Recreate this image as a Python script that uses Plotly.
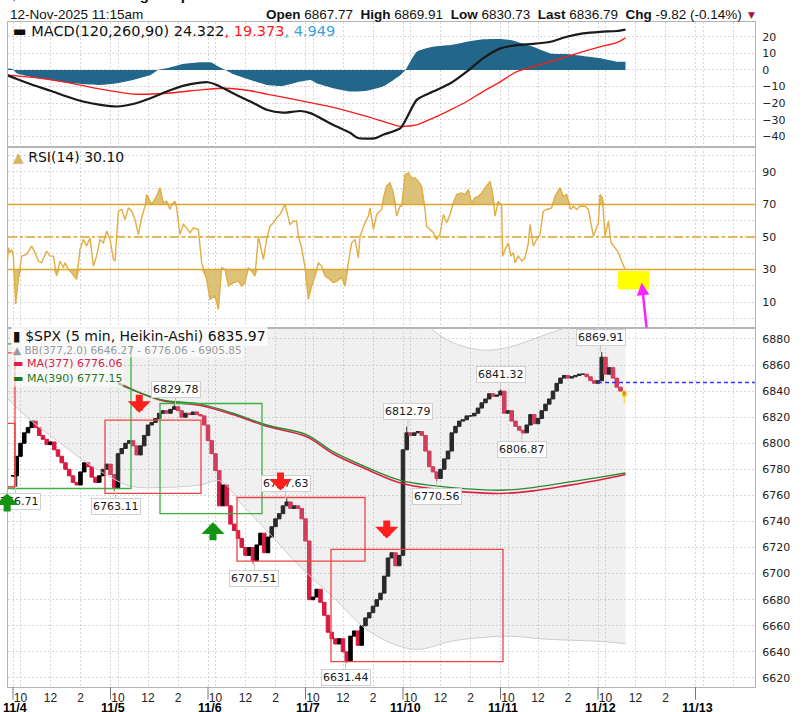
import plotly.graph_objects as go

BARS_PER_DAY = 78  # 5-min bars per session, 9:30-16:00

# ---------------- header ----------------
title_line = "$SPX S&P 500 Large Cap Index INDX"
stamp = "12-Nov-2025 11:15am"
q_open, q_high, q_low, q_last = 6867.77, 6869.91, 6830.73, 6836.79
q_chg, q_chg_pct = -9.82, -0.14
prev_close = 6846.61

# ---------------- time axis ----------------
day_labels = ["11/4", "11/5", "11/6", "11/7", "11/10", "11/11", "11/12", "11/13"]
hour_labels = ["10", "12", "2"]
hour_offsets = [6, 30, 54]  # bars after 9:30

# ---------------- MACD(120,260,90) ----------------
macd_bar = [-5, 3, 16, 30, 43, 56, 70, 83, 96, 110, 123, 136, 150, 156, 163, 176, 190, 203, 216, 230,
            238, 256, 270, 276, 290, 296, 310, 323, 336, 350, 363, 376, 390, 403, 416, 430, 443, 456,
            470, 483, 490]
macd_val = [-3, -5.4, -9, -12.5, -16, -19, -21, -22, -20.5, -17, -13, -9.6, -7.6, -7.4, -9, -14, -19, -24,
            -25.7, -24.7, -26, -33, -38, -41, -41, -39, -35, -18, -13, -8, -1, 7, 13, 15, 15.7, 17, 20,
            22, 23, 23.5, 24.322]
sig_bar = [-5, 16, 43, 70, 96, 123, 150, 170, 190, 203, 230, 256, 283, 296, 310, 323, 336, 350, 363, 376,
           390, 403, 416, 430, 443, 456, 470, 483, 490]
sig_val = [-3, -4.5, -7.5, -11.5, -14.5, -14, -12, -11, -12.5, -14.5, -18.5, -22.5, -28, -31, -34, -33,
           -29, -24, -19, -13, -7, -1, 2, 5, 8, 11, 14, 16.5, 19.373]
hist_bar = [-5, 0, 3, 16, 30, 43, 56, 70, 83, 96, 110, 116, 123, 136, 150, 158, 163, 170, 176, 190,
            203, 216, 230, 238, 243, 256, 270, 283, 296, 310, 314, 323, 336, 350, 363, 376, 390, 398,
            403, 416, 430, 443, 456, 470, 483, 490]
hist_val = [1, 0.5, -2, -4.4, -6, -7.6, -8.6, -9, -8, -6, -3, 0, 1, 3.6, 4.6, 4.6, 2.6, 0, -2.4, -6,
            -9, -9.6, -7, -6, -8, -11, -13, -12.5, -10, -3, 0, 11, 14, 15, 17, 18.5, 18.7, 18, 17, 14,
            10, 9.6, 8.4, 7, 5, 4.949]

# ---------------- RSI(14) ----------------
rsi_bar = [-4.5, -3.7, -2.4, -1.1, 0.3, 2.1, 4.3, 6.9, 10.9, 14.9, 17.6, 20.3, 22.9, 26.9, 29.6, 32.3,
           34.9, 37.6, 40.3, 41.6, 44.3, 46.9, 50.9, 53.6, 56.3, 58.9, 61.6, 64.3, 66.9, 69.6, 72.3,
           74.9, 77.6, 80.3, 81.6, 84.3, 86.9, 89.6, 92.3, 94.9, 97.6, 100.3, 102.9, 105.6, 106.9,
           110.9, 114.9, 117.6, 120.3, 122.9, 125.6, 126.9, 129.6, 130.9, 133.6, 136.3, 138.9, 141.6,
           144.3, 148.3, 150.9, 154.9, 157.6, 161.6, 164.3, 166.9, 169.6, 172.3, 176.3, 180.3, 182.9,
           185.6, 188.3, 190.9, 193.6, 196.3, 200.3, 202.9, 205.6, 208.3, 210.9, 213.6, 217.6, 221.6,
           224.3, 226.9, 228.3, 230.9, 233.6, 236.3, 238.9, 241.6, 244.3, 246.9, 249.6, 253.6, 256.3,
           258.9, 262.9, 265.6, 268.3, 270.9, 273.6, 276.3, 277.6, 281.6, 284.3, 285.6, 288.3, 290.9,
           294.9, 296.3, 298.9, 301.6, 304.3, 306.9, 309.6, 310.9, 313.6, 316.3, 318.9, 321.6, 324.3,
           326.9, 329.6, 330.9, 333.6, 336.3, 338.9, 341.6, 344.3, 346.9, 349.6, 352.3, 354.9, 358.9,
           361.6, 364.3, 366.9, 369.6, 372.3, 374.9, 377.6, 381.6, 383.7, 385.6, 388.3, 390.9, 391.7,
           393.6, 396.3, 398.4, 400.3, 401.6, 404.3, 406.9, 409.6, 412.3, 413.6, 416.3, 418.9, 421.6,
           424.3, 426.9, 430.9, 433.6, 437.6, 440.3, 442.9, 446.1, 448.3, 450.9, 453.6, 457.6, 460.3,
           464.3, 468.3, 469.6, 471.5, 473.6, 476.3, 478.4, 481.6, 484.3, 486.9, 489.6]
rsi_val = [34.2, 43.4, 40.3, 42.3, 38.2, 8.6, 23.9, 38.2, 39.3, 44.4, 40.3, 35.2, 34.2, 41.3, 38.2, 38.2,
           26, 35.2, 31.1, 34.2, 30.1, 28, 23.9, 42.3, 48.5, 44.4, 49.5, 32.1, 38.2, 48.5, 46.4,
           53.6, 48.5, 36.2, 35.2, 65.8, 66.9, 60.7, 67.9, 65.8, 60.7, 51.5, 61.8, 68.9, 76.1,
           70, 75, 80.2, 71, 72, 66.9, 70, 72, 67.9, 51.5, 57.7, 55.6, 52.6,
           55.6, 54.6, 34.2, 23.9, 11.7, 13.7, 5.5, 31.1, 30.1, 19.8, 21.9, 22.9, 19.8,
           21.9, 31.1, 29, 26, 50.5, 36.2, 48.5, 56.6, 58.7, 61.8, 63.8, 70, 57.7,
           59.7, 59.7, 50.5, 43.4, 31.1, 11.7, 19.8, 26, 34.2, 32.1, 26, 23.9, 21.9,
           22.9, 25, 19.8, 34.2, 46.4, 48.5, 37.2, 50.5, 58.7, 62.8, 67.9, 54.6, 63.8,
           66.9, 74, 81.2, 83.3, 77.1, 62.8, 68.9, 68.9, 88.3, 89.4, 86.3, 86.3, 84.2,
           81.2, 66.9, 56.6, 54.6, 52.6, 48.5, 51.5, 63.8, 58.7, 63.8, 71, 76.1, 77.1,
           76.1, 79.1, 71, 74, 75, 77.1, 80.2, 84.2, 77.1, 62.8, 72, 68.9, 38.2,
           42.3, 46.4, 38.2, 40.3, 34.2, 38.2, 35.2, 37.2, 46.4, 57.7, 44.4, 48.5, 51.5,
           65.8, 66.9, 67.9, 75, 80.2, 75, 76.1, 66.9, 68.9, 66.9, 68.9, 68.9, 66.9,
           50.5, 58.7, 76.1, 74, 50.5, 59.7, 46.4, 43.4, 40.3, 35.2, 30.1]

# ---------------- price: Heikin-Ashi closes, one per 15 min ----------------
ha_close = [
    # 11/4
    6775, 6790, 6800, 6808, 6812, 6817, 6812, 6806, 6803, 6799, 6801, 6795, 6790,
    6785, 6780, 6775, 6770, 6768, 6778, 6785, 6782, 6774, 6770, 6775, 6780, 6784,
    # 11/5
    6776, 6766, 6792, 6796, 6800, 6802, 6798, 6791, 6798, 6806, 6814, 6816, 6819,
    6823, 6825, 6823, 6826, 6828, 6825, 6820, 6823, 6822, 6824, 6822, 6821, 6814,
    # 11/6
    6802, 6792, 6779, 6752, 6768, 6752, 6738, 6733, 6727, 6720, 6714, 6720, 6710,
    6722, 6731, 6716, 6728, 6736, 6742, 6746, 6752, 6755, 6750, 6752, 6750, 6742,
    # 11/7
    6725, 6680, 6682, 6688, 6678, 6668, 6655, 6650, 6646, 6650, 6640, 6633, 6652,
    6656, 6645, 6660, 6666, 6670, 6675, 6680, 6685, 6698, 6712, 6716, 6706, 6714,
    # 11/10
    6795, 6808, 6806, 6808, 6809, 6806, 6794, 6782, 6778, 6773, 6780, 6788, 6794,
    6808, 6813, 6817, 6818, 6821, 6821, 6823, 6827, 6831, 6834, 6838, 6836, 6837,
    # 11/11
    6840, 6823, 6825, 6817, 6813, 6810, 6808, 6814, 6822, 6815, 6819, 6825, 6830,
    6834, 6840, 6846, 6850, 6852, 6850, 6851, 6852, 6853, 6853, 6851, 6848, 6846,
    # 11/12
    6848, 6866, 6853, 6858, 6850, 6843, 6840, 6835.97,
]

swing_bar = [2, 82, 130, 193, 218, 266, 316, 339, 390, 407, 470]
swing_val = [6766.71, 6763.11, 6829.78, 6707.51, 6757.63, 6631.44, 6812.79, 6770.56, 6841.32, 6806.87, 6869.91]
swing_high = [False, False, True, False, True, False, True, False, True, False, True]

# Bollinger(377,2.0) and moving averages
bb_bar = [-4, 0, 16, 38, 59, 78, 94, 118, 150, 166, 184, 203, 230, 256, 283, 310, 326, 350, 376, 398,
          422, 443, 470, 490]
bb_lower = [6834, 6830, 6816, 6800, 6785, 6774, 6767, 6766, 6768, 6771, 6752, 6733, 6705, 6682, 6657,
            6644, 6642, 6648, 6651, 6652, 6650, 6649, 6648, 6646.27]
bb_upper = [6960, 6955, 6940, 6925, 6915, 6908, 6900, 6895, 6893, 6893, 6895, 6898, 6903, 6905, 6903,
            6898, 6893, 6878, 6871.5, 6874, 6882, 6889, 6898, 6905.85]
ma_bar = [84, 118, 150, 176, 203, 235, 256, 283, 310, 336, 363, 390, 416, 443, 470, 490]
ma377 = [6846.5, 6833, 6829, 6822, 6813, 6805, 6792, 6780, 6769.5, 6765, 6762.5, 6761.5, 6763.5,
         6767.5, 6772, 6776.06]
ma390 = [6845.5, 6833.5, 6830, 6823, 6814, 6806.5, 6793.5, 6781.5, 6771.5, 6767.5, 6765, 6764, 6766,
         6770, 6774, 6777.15]

# ---------------- colours ----------------
TEAL = "#22678a"
GOLD = "#e2ad45"
TAN = "rgba(214,184,98,0.85)"
HA_RED = "#d81b43"
GRID = "#d6d6d6"
FRAME = "#b4b4b4"

# ---------------- derived candles ----------------
n = len(ha_close)
x15 = [3 * i for i in range(n)]
ha_open = [ha_close[0]] + ha_close[:-1]
ha_hi = [max(o, c) for o, c in zip(ha_open, ha_close)]
ha_lo = [min(o, c) for o, c in zip(ha_open, ha_close)]
for b, v, hi in zip(swing_bar, swing_val, swing_high):
    i = round(b / 3)
    if hi:
        ha_hi[i] = max(ha_hi[i], v)
    else:
        ha_lo[i] = min(ha_lo[i], v)
ha_lo[-1] = min(ha_lo[-1], q_low)

fig = go.Figure()

# MACD panel
fig.add_trace(go.Scatter(x=hist_bar, y=hist_val, xaxis="x", yaxis="y", mode="lines",
                         line=dict(width=0, color=TEAL, shape="spline", smoothing=0.5),
                         fill="tozeroy", fillcolor=TEAL, hoverinfo="skip"))
fig.add_trace(go.Scatter(x=sig_bar, y=sig_val, xaxis="x", yaxis="y", mode="lines",
                         line=dict(color="#ff1a1a", width=1.3, shape="spline", smoothing=0.6)))
fig.add_trace(go.Scatter(x=macd_bar, y=macd_val, xaxis="x", yaxis="y", mode="lines",
                         line=dict(color="#1a1a1a", width=2.2, shape="spline", smoothing=0.6)))

# RSI panel
fig.add_trace(go.Scatter(x=rsi_bar, y=[70] * len(rsi_bar), xaxis="x2", yaxis="y2", mode="lines",
                         line=dict(width=0), hoverinfo="skip"))
fig.add_trace(go.Scatter(x=rsi_bar, y=[max(v, 70) for v in rsi_val], xaxis="x2", yaxis="y2",
                         mode="lines", line=dict(width=0), fill="tonexty", fillcolor=TAN))
fig.add_trace(go.Scatter(x=rsi_bar, y=[30] * len(rsi_bar), xaxis="x2", yaxis="y2", mode="lines",
                         line=dict(width=0), hoverinfo="skip"))
fig.add_trace(go.Scatter(x=rsi_bar, y=[min(v, 30) for v in rsi_val], xaxis="x2", yaxis="y2",
                         mode="lines", line=dict(width=0), fill="tonexty", fillcolor=TAN))
fig.add_trace(go.Scatter(x=rsi_bar, y=rsi_val, xaxis="x2", yaxis="y2", mode="lines",
                         line=dict(color=GOLD, width=1.4)))

# price panel
fig.add_trace(go.Scatter(x=bb_bar, y=bb_lower, xaxis="x3", yaxis="y3", mode="lines",
                         line=dict(color="#cdcdcd", width=1, shape="spline")))
fig.add_trace(go.Scatter(x=bb_bar, y=bb_upper, xaxis="x3", yaxis="y3", mode="lines",
                         line=dict(color="#cdcdcd", width=1, shape="spline"),
                         fill="tonexty", fillcolor="rgba(185,185,185,0.22)"))
fig.add_trace(go.Scatter(x=ma_bar, y=ma377, xaxis="x3", yaxis="y3", mode="lines",
                         line=dict(color="#dc2048", width=1.6, shape="spline")))
fig.add_trace(go.Scatter(x=ma_bar, y=ma390, xaxis="x3", yaxis="y3", mode="lines",
                         line=dict(color="#2a8a2a", width=1.4, shape="spline")))
fig.add_trace(go.Candlestick(
    x=x15[:-1], open=ha_open[:-1], high=ha_hi[:-1], low=ha_lo[:-1], close=ha_close[:-1],
    xaxis="x3", yaxis="y3", whiskerwidth=0,
    increasing=dict(line=dict(color="#000000", width=1), fillcolor="#000000"),
    decreasing=dict(line=dict(color=HA_RED, width=1), fillcolor=HA_RED)))
fig.add_trace(go.Candlestick(
    x=x15[-1:], open=ha_open[-1:], high=ha_hi[-1:], low=ha_lo[-1:], close=ha_close[-1:],
    xaxis="x3", yaxis="y3", whiskerwidth=0,
    increasing=dict(line=dict(color="#ffd400", width=1), fillcolor="#f06020"),
    decreasing=dict(line=dict(color="#ffd400", width=1), fillcolor="#f06020")))
fig.add_trace(go.Scatter(x=[6 * BARS_PER_DAY, 8 * BARS_PER_DAY], y=[prev_close, prev_close],
                         xaxis="x3", yaxis="y3", mode="lines",
                         line=dict(color="#3535ff", width=1.6, dash="4px,3px")))

# ---------------- axes ----------------
tick_vals, tick_text = [], []
for d, lab in enumerate(day_labels):
    last_day = d == len(day_labels) - 1
    tick_vals.append(d * BARS_PER_DAY)
    tick_text.append("")
    for off, h in zip(hour_offsets, hour_labels):
        v = d * BARS_PER_DAY + off
        if v < 594:
            tick_vals.append(v)
            tick_text.append("" if last_day else h)

xr = [-4, 593.6]
xcommon = dict(range=xr, tickmode="array", tickvals=tick_vals, ticktext=tick_text, showgrid=True,
               gridcolor=GRID, griddash="2px,2px", gridwidth=1, showline=True, linecolor=FRAME,
               mirror=True, zeroline=False, ticks="")
ycommon = dict(side="right", showgrid=True, gridcolor=GRID, griddash="2px,2px", showline=True,
               linecolor=FRAME, mirror=True, zeroline=False, ticks="", ticklabelstandoff=4,
               tickfont=dict(size=11, color="#222"))

fig.update_layout(
    width=803, height=712, margin=dict(l=8, r=48, t=22, b=25),
    paper_bgcolor="white", plot_bgcolor="white", showlegend=False,
    boxgap=0.05, boxgroupgap=0,
    font=dict(family="DejaVu Sans", size=11, color="#222"),
    xaxis=dict(**xcommon, anchor="y", showticklabels=False),
    xaxis2=dict(**xcommon, anchor="y2", showticklabels=False),
    xaxis3=dict(**xcommon, anchor="y3", rangeslider=dict(visible=False), ticklabelstandoff=0,
                tickfont=dict(family="Liberation Sans", size=12, color="#222")),
    yaxis=dict(**ycommon, domain=[0.812, 1.0], range=[-46.4, 28.9], tickmode="linear",
               tick0=0, dtick=10),
    yaxis2=dict(**ycommon, domain=[0.5398, 0.812], range=[-6, 105.3], tickmode="linear",
                tick0=10, dtick=20,
                minor=dict(tick0=0, dtick=10, showgrid=True, gridcolor=GRID, griddash="2px,2px")),
    yaxis3=dict(**ycommon, domain=[0.0, 0.5398], range=[6613, 6888.4], tickmode="linear",
                tick0=6620, dtick=20),
)

# RSI reference lines
for lvl, dash in [(70, "solid"), (30, "solid"), (50, "dashdot")]:
    fig.add_shape(type="line", xref="x2 domain", yref="y2", x0=0, x1=1, y0=lvl, y1=lvl,
                  line=dict(color="#e0a530", width=1.6, dash=dash))

# session-start ticks under the time axis
for d in range(len(day_labels)):
    fig.add_shape(type="line", xref="x3", yref="paper", x0=d * BARS_PER_DAY, x1=d * BARS_PER_DAY,
                  y0=0, y1=-0.019, line=dict(color="#777", width=1))

# user-drawn boxes on the price panel (bar0, bar1, price0, price1, colour)
boxes = [
    (-18, 1.6, 6766.5, 6869.3, "#ec4444"),
    (-18, 1.6, 6766.5, 6815.3, "#ec4444"),
    (-18, 94.4, 6765.3, 6876.2, "#3cb043"),
    (73.6, 150.4, 6761.6, 6817.7, "#ec4444"),
    (117.6, 199.2, 6746.0, 6830.5, "#3cb043"),
    (179.2, 281.6, 6709.5, 6758.4, "#ec4444"),
    (254.4, 392.0, 6632.5, 6718.6, "#ec4444"),
]
for b0, b1, p0, p1, col in boxes:
    fig.add_shape(type="rect", xref="x3", yref="y3", x0=b0, x1=b1, y0=p0, y1=p1,
                  line=dict(color=col, width=1.3), layer="above")

# yellow highlight on the RSI panel
fig.add_shape(type="rect", xref="x2", yref="y2", x0=484, x1=509, y0=17.8, y1=29.0,
              fillcolor="#ffff00", line=dict(width=0), layer="above")

# swing labels
for b, v, hi in zip(swing_bar, swing_val, swing_high):
    fig.add_annotation(x=b, y=v, xref="x3", yref="y3", text=f"{v:.2f}", showarrow=True,
                       arrowhead=0, arrowwidth=1, arrowcolor="#c4c4c4", ax=0, ay=-15 if hi else 15,
                       font=dict(size=11, color="#1a1a1a"), bgcolor="white",
                       bordercolor="#cfcfcf", borderwidth=1, borderpad=1)

# signal arrows (bar, tip price, direction); the first sits on the left edge of the range
signals = [(-3.9, 6761.5, "up"), (101, 6823.4, "down"), (160, 6739.3, "up"),
           (214, 6763.8, "down"), (299, 6727.0, "down")]
for b, p, way in signals:
    fig.add_annotation(x=b, y=p, xref="x3", yref="y3", text=" ", font=dict(size=1),
                       showarrow=True, arrowhead=1, arrowsize=0.55, arrowwidth=7,
                       arrowcolor="#ff1f1f" if way == "down" else "#129412",
                       ax=0, ay=-20 if way == "down" else 20, xshift=-1 if b < 0 else 0)

# magenta pointer on the RSI panel
fig.add_annotation(x=503, y=21.9, xref="x2", yref="y2", text=" ", font=dict(size=1), showarrow=True,
                   arrowhead=2, arrowsize=1, arrowwidth=2.5, arrowcolor="#ff20ff", ax=5, ay=47)

# day labels under the time axis
for d, lab in enumerate(day_labels):
    fig.add_annotation(x=d * BARS_PER_DAY, y=-0.0316, xref="x3", yref="paper", text=f"<b>{lab}</b>",
                       showarrow=False, xshift=2, yanchor="middle",
                       font=dict(family="Liberation Sans", size=12.5, color="#000"))


def px_x(p):
    return (p - 8) / 747


def px_y(p):
    return (687 - p) / 665


# header
fig.add_annotation(x=px_x(8), y=px_y(5), xref="paper", yref="paper", xanchor="left", yanchor="bottom",
                   text=f"<b>{title_line}</b>", showarrow=False,
                   font=dict(family="Liberation Sans", size=15, color="#111"))
fig.add_annotation(x=px_x(752), y=px_y(4), xref="paper", yref="paper", xanchor="right", yanchor="bottom",
                   text="© StockCharts.com", showarrow=False,
                   font=dict(family="Liberation Sans", size=13, color="#999"))
fig.add_annotation(x=px_x(8), y=px_y(14), xref="paper", yref="paper", xanchor="left", yanchor="middle",
                   text=stamp, showarrow=False, font=dict(family="Liberation Sans", size=13.5, color="#111"))
hdr = (f"<b>Open</b> {q_open:.2f}\u00a0 <b>High</b> {q_high:.2f}\u00a0 <b>Low</b> {q_low:.2f}"
       f"\u00a0 <b>Last</b> {q_last:.2f}\u00a0 <b>Chg</b> {q_chg:.2f} ({q_chg_pct:.2f}%)")
fig.add_annotation(x=px_x(744), y=px_y(14), xref="paper", yref="paper", xanchor="right", yanchor="middle",
                   text=hdr, showarrow=False, font=dict(family="Liberation Sans", size=13.5, color="#111"))
fig.add_annotation(x=px_x(751), y=px_y(15), xref="paper", yref="paper", xanchor="center", yanchor="middle",
                   text="▼", showarrow=False, font=dict(size=9, color="#a8124c"))

# panel legends
fig.add_annotation(x=px_x(11), y=px_y(31), xref="paper", yref="paper", xanchor="left", yanchor="middle",
                   showarrow=False, font=dict(size=14.5, color="#111"),
                   text=(f"▬ MACD(120,260,90) {macd_val[-1]:.3f}"
                         f"<span style='color:#ff1a1a'>, {sig_val[-1]:.3f}</span>"
                         f"<span style='color:#3d9fdc'>, {hist_val[-1]:.3f}</span>"))
fig.add_annotation(x=px_x(11), y=px_y(157), xref="paper", yref="paper", xanchor="left", yanchor="middle",
                   showarrow=False, font=dict(size=14, color="#111"),
                   text=f"<span style='color:#d6b660'>▲</span> RSI(14) {rsi_val[-1]:.2f}")
fig.add_annotation(x=px_x(11), y=px_y(336), xref="paper", yref="paper", xanchor="left", yanchor="middle",
                   showarrow=False, font=dict(size=14, color="#111"), bgcolor="rgba(255,255,255,0.85)",
                   text=f"<b>▮</b> $SPX (5 min, Heikin-Ashi) {ha_close[-1]:.2f}")
fig.add_annotation(x=px_x(11), y=px_y(350), xref="paper", yref="paper", xanchor="left", yanchor="middle",
                   showarrow=False, font=dict(size=10.5, color="#9a9a9a"), bgcolor="rgba(255,255,255,0.6)",
                   text=f"▲ BB(377,2.0) {bb_lower[-1]:.2f} - {ma377[-1]:.2f} - {bb_upper[-1]:.2f}")
fig.add_annotation(x=px_x(11), y=px_y(364), xref="paper", yref="paper", xanchor="left", yanchor="middle",
                   showarrow=False, font=dict(size=11, color="#dc2048"), bgcolor="rgba(255,255,255,0.6)",
                   text=f"▬ MA(377) {ma377[-1]:.2f}")
fig.add_annotation(x=px_x(11), y=px_y(378), xref="paper", yref="paper", xanchor="left", yanchor="middle",
                   showarrow=False, font=dict(size=11, color="#1e7b1e"), bgcolor="rgba(255,255,255,0.6)",
                   text=f"▬ MA(390) {ma390[-1]:.2f}")

fig.write_html("out.html", config={"displayModeBar": False},
               post_script="document.body.style.margin='0';")
